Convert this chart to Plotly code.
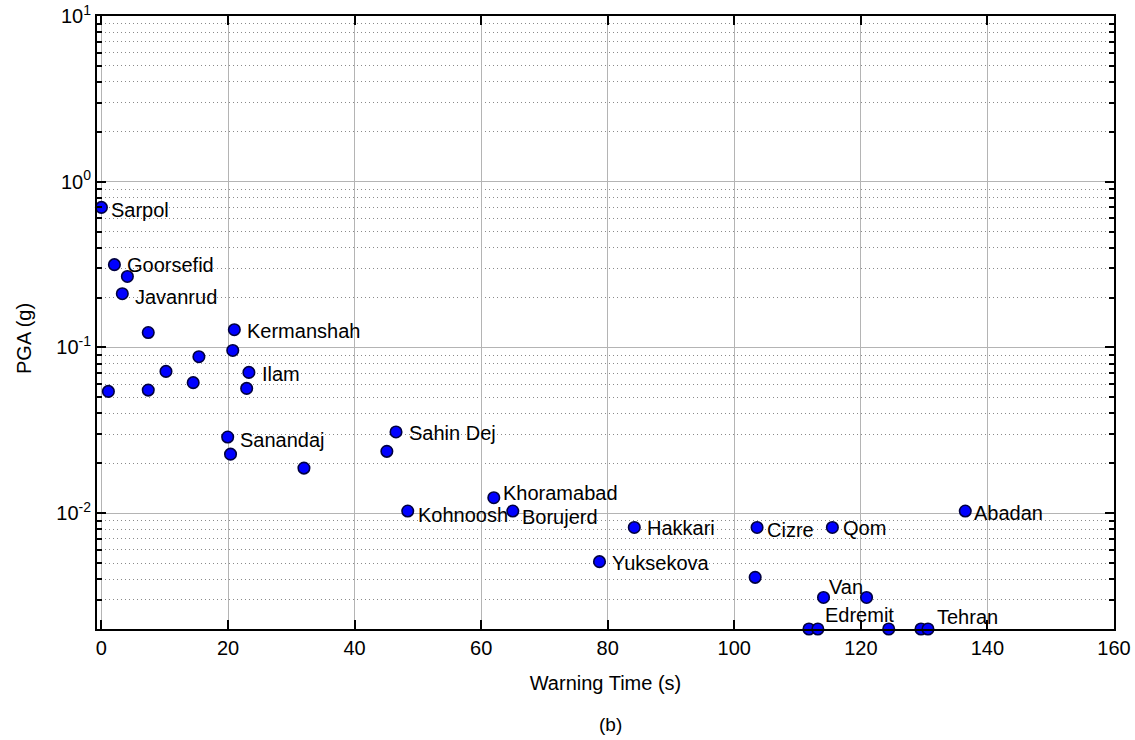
import math
import plotly.graph_objects as go

# ---- data ----
warning_time = [0.0, 2.05, 4.1, 3.3, 7.4, 1.1, 7.4, 10.2, 15.4, 14.5,
                21.0, 20.75, 23.3, 22.95, 19.95, 20.4, 32.0, 46.55, 45.1, 48.4,
                62.0, 65.0, 84.2, 78.7, 103.6, 103.3, 115.5, 136.5, 114.1, 120.9,
                111.8, 113.2, 124.4, 129.5, 130.6]
pga = [0.70, 0.316, 0.268, 0.211, 0.123, 0.0543, 0.0553, 0.0717, 0.0879, 0.0613,
       0.128, 0.0959, 0.0707, 0.0566, 0.0288, 0.0227, 0.0187, 0.0309, 0.0236, 0.0103,
       0.0124, 0.0103, 0.0082, 0.0051, 0.0082, 0.0041, 0.0082, 0.0103, 0.0031, 0.0031,
       0.002, 0.002, 0.002, 0.002, 0.002]
site_names = ["Sarpol", "Goorsefid", "", "Javanrud", "", "", "", "", "", "",
              "Kermanshah", "", "Ilam", "", "Sanandaj", "", "", "Sahin Dej", "", "Kohnoosh",
              "Khoramabad", "Borujerd", "Hakkari", "Yuksekova", "Cizre", "", "Qom", "Abadan", "Van", "",
              "", "Edremit", "", "", "Tehran"]

x_ticks = [0, 20, 40, 60, 80, 100, 120, 140, 160]
y_ticks = [0.01, 0.1, 1, 10]
y_ticktext = ["10<sup>-2</sup>", "10<sup>-1</sup>", "10<sup>0</sup>", "10<sup>1</sup>"]

# label placement (pixel offsets from the marker centre) - styling only
label_offsets = {
    "Sarpol": (8, -3), "Goorsefid": (11, 0), "Javanrud": (11, -3), "Kermanshah": (11, -1),
    "Ilam": (11, -2), "Sanandaj": (10, -3), "Sahin Dej": (11, -1), "Kohnoosh": (8, -4),
    "Khoramabad": (7, 5), "Borujerd": (7, -6), "Hakkari": (11, -1), "Yuksekova": (11, -1),
    "Cizre": (8, -3), "Qom": (9, -1), "Abadan": (7, -2), "Van": (3, 10),
    "Edremit": (5, 14), "Tehran": (7, 12),
}

FONT = "Arial, Liberation Sans, sans-serif"
W, H = 1135, 740
L, R, T, B = 97, 21, 16, 111
pw, ph = W - L - R, H - T - B

fig = go.Figure()
fig.add_trace(go.Scatter(
    x=warning_time, y=pga, mode="markers",
    marker=dict(size=11.5, color="#0000ff", line=dict(color="#000040", width=1.6)),
    cliponaxis=False, showlegend=False, hoverinfo="x+y",
))

annotations = []
for xv, yv, name in zip(warning_time, pga, site_names):
    if not name:
        continue
    dx, dy = label_offsets.get(name, (10, 0))
    annotations.append(dict(
        x=xv, y=math.log10(yv), xref="x", yref="y", text=name,
        showarrow=False, xanchor="left", yanchor="middle",
        xshift=dx, yshift=dy, font=dict(family=FONT, size=20, color="black"),
    ))


def paper_pos(px, py):
    return (px - L) / pw, (H - B - py) / ph


px_, py_ = paper_pos(24, 339)
annotations.append(dict(
    x=px_, y=py_, xref="paper", yref="paper", text="PGA (g)", textangle=-90,
    xanchor="center", yanchor="middle", showarrow=False,
    font=dict(family=FONT, size=20, color="black"),
))
px_, py_ = paper_pos(610, 725)
annotations.append(dict(
    x=px_, y=py_, xref="paper", yref="paper", text="(b)",
    xanchor="center", yanchor="middle", showarrow=False,
    font=dict(family=FONT, size=19, color="black"),
))

minor_vals = [m * 10 ** e for e in range(-3, 1) for m in range(2, 10)]

fig.update_layout(
    width=W, height=H,
    margin=dict(l=L, r=R, t=T, b=B, autoexpand=False),
    paper_bgcolor="white", plot_bgcolor="white",
    font=dict(family=FONT, size=20, color="black"),
    annotations=annotations,
    xaxis=dict(
        range=[-0.7, 160], tickmode="array", tickvals=x_ticks, automargin=False,
        ticklabeloverflow="allow",
        showgrid=True, gridcolor="#b4b4b4", gridwidth=1.3, zeroline=False,
        showline=True, linecolor="black", linewidth=2, mirror="ticks",
        ticks="inside", ticklen=9, tickwidth=2, tickcolor="black",
        tickfont=dict(family=FONT, size=20, color="black"),
        title=dict(text="Warning Time (s)", font=dict(family=FONT, size=20, color="black"), standoff=18),
    ),
    yaxis=dict(
        type="log", range=[math.log10(0.002), 1], automargin=False,
        ticklabeloverflow="allow",
        tickmode="array", tickvals=y_ticks, ticktext=y_ticktext,
        showgrid=True, gridcolor="#b4b4b4", gridwidth=1.3, zeroline=False,
        showline=True, linecolor="black", linewidth=2, mirror="ticks",
        ticks="inside", ticklen=9, tickwidth=2, tickcolor="black",
        tickfont=dict(family=FONT, size=20, color="black"),
        minor=dict(tickmode="array", tickvals=minor_vals, ticks="inside", ticklen=5,
                   tickwidth=1.5, tickcolor="black", showgrid=True, griddash="1px,3px",
                   gridcolor="#8a8a8a", gridwidth=1.2),
    ),
)

# remove the browser's default page margin so the figure fills the window exactly
fig.write_html("out.html", config={"displayModeBar": False},
               post_script="document.body.style.margin='0px';")
